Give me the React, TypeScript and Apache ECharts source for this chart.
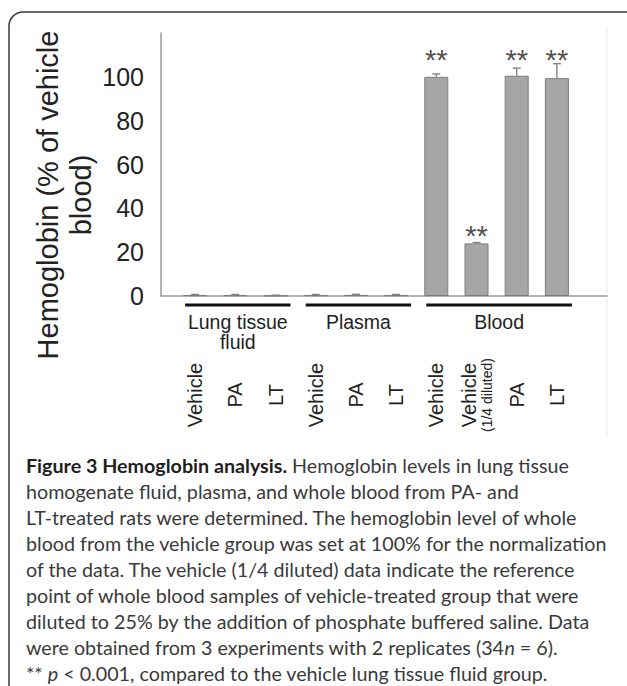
import React, { useEffect, useRef } from 'react';
import * as echarts from 'echarts';

// ---- data ----
const categoryLabels = ['Vehicle', 'PA', 'LT', 'Vehicle', 'PA', 'LT', 'Vehicle', 'Vehicle|(1/4 diluted)', 'PA', 'LT'];
const hemoglobin = [0.4, 0.4, 0.2, 0.4, 0.5, 0.4, 100, 24, 100.5, 99.4];
const errorUp = [0.3, 0.3, 0.2, 0.3, 0.3, 0.3, 1.3, 0.4, 3.5, 6.6];
const sigMarks = ['', '', '', '', '', '', '**', '**', '**', '**'];
const sigY: (number | null)[] = [null, null, null, null, null, null, 111, 30.5, 111, 111];
const groupNames = ['Lung tissue\nfluid', 'Plasma', 'Blood'];
const groupStart = [0, 3, 6];
const groupEnd = [2, 5, 9];
const yMax = 120;
const yStep = 20;
const yLabelMax = 100;
const yAxisTitle = 'Hemoglobin (% of vehicle\nblood)';
const captionLines = [
  '{b|Figure 3 Hemoglobin analysis.}{t| Hemoglobin levels in lung tissue}',
  '{t|homogenate fluid, plasma, and whole blood from PA- and}',
  '{t|LT-treated rats were determined. The hemoglobin level of whole}',
  '{t|blood from the vehicle group was set at 100% for the normalization}',
  '{t|of the data. The vehicle (1/4 diluted) data indicate the reference}',
  '{t|point of whole blood samples of vehicle-treated group that were}',
  '{t|diluted to 25% by the addition of phosphate buffered saline. Data}',
  '{t|were obtained from 3 experiments with 2 replicates (34}{i|n}{t| = 6).}',
  '{t|** }{i|p}{t| < 0.001, compared to the vehicle lung tissue fluid group.}',
];

const catIds = categoryLabels.map((_, i) => 'c' + i);
const FONT = 'Liberation Sans, Arial, sans-serif';
const CAP_FONT = 'Lato, sans-serif';
const CAP_SIZE = 19.7;

export default function App() {
  const ref = useRef<HTMLDivElement>(null);
  useEffect(() => {
    if (!ref.current) return;
    const chart = echarts.init(ref.current, undefined, { renderer: 'svg' });
    const gridTop = 33;
    const gridBottom = 390;
    chart.setOption({
      animation: false,
      backgroundColor: '#ffffff',
      grid: [
        { left: 161, right: 20, top: gridTop, bottom: gridBottom },
        { left: 175, right: 50, top: gridTop, bottom: gridBottom },
      ],
      xAxis: [
        {
          type: 'value', gridIndex: 0, min: 0, max: 1,
          axisLine: { show: true, lineStyle: { color: '#9a9a9a', width: 1.5 } },
          axisTick: { show: false }, axisLabel: { show: false }, splitLine: { show: false },
        },
        {
          type: 'category', gridIndex: 1, data: catIds,
          axisLine: { show: false }, axisTick: { show: false }, splitLine: { show: false },
          axisLabel: {
            interval: 0, rotate: 90, align: 'center', verticalAlign: 'middle', margin: 99,
            fontFamily: FONT, fontSize: 20, color: '#222',
            formatter: (_v: string, i: number) => {
              const parts = categoryLabels[i].split('|');
              return parts.length > 1 ? `{a|${parts[0]}}\n{s|${parts[1]}}` : `{a|${parts[0]}}`;
            },
            rich: {
              a: { fontFamily: FONT, fontSize: 20, color: '#222', lineHeight: 20 },
              s: { fontFamily: FONT, fontSize: 14, color: '#222', lineHeight: 16 },
            },
          },
        },
      ],
      yAxis: [
        {
          type: 'value', gridIndex: 0, min: 0, max: yMax, interval: yStep,
          axisLine: { show: true, lineStyle: { color: '#9a9a9a', width: 1.5 } },
          axisTick: { show: false }, splitLine: { show: false },
          axisLabel: {
            fontFamily: FONT, fontSize: 25, color: '#222', margin: 17,
            formatter: (v: number) => (v > yLabelMax ? '' : String(v)),
          },
        },
        {
          type: 'value', gridIndex: 1, min: 0, max: yMax, interval: yStep, show: false,
        },
      ],
      series: [
        {
          type: 'bar', xAxisIndex: 1, yAxisIndex: 1, barWidth: 24,
          data: hemoglobin,
          itemStyle: { color: '#a6a6a6', borderColor: '#7c7c7c', borderWidth: 1 },
          z: 2,
        },
        {
          type: 'custom', xAxisIndex: 1, yAxisIndex: 1, z: 3,
          data: hemoglobin.map((v, i) => [i, v, errorUp[i]]),
          renderItem: (_p: any, api: any) => {
            const i = api.value(0);
            const v = api.value(1);
            const e = api.value(2);
            const base = api.coord([i, v]);
            const top = api.coord([i, v + e]);
            const st = { stroke: '#7c7c7c', lineWidth: 1.3 };
            return {
              type: 'group',
              children: [
                { type: 'line', shape: { x1: top[0], y1: base[1], x2: top[0], y2: top[1] }, style: st },
                { type: 'line', shape: { x1: top[0] - 4, y1: top[1], x2: top[0] + 4, y2: top[1] }, style: st },
              ],
            };
          },
        },
        {
          type: 'scatter', xAxisIndex: 1, yAxisIndex: 1, symbolSize: 0, z: 4,
          data: sigY.map((v, i) => [i, v == null ? '-' : v]),
          label: {
            show: true, position: 'inside', offset: [0, 7],
            formatter: (p: any) => sigMarks[p.dataIndex],
            fontFamily: FONT, fontSize: 29, color: '#222',
          },
        },
      ],
    });

    const px = (i: number) => chart.convertToPixel({ xAxisIndex: 1 }, catIds[i]) as number;
    const graphics: any[] = [];
    groupNames.forEach((name, g) => {
      const x1 = px(groupStart[g]) - 10;
      const x2 = px(groupEnd[g]) + 15;
      graphics.push({
        type: 'line', shape: { x1, y1: 305, x2, y2: 305 },
        style: { stroke: '#111', lineWidth: 3 },
      });
      graphics.push({
        type: 'text', x: (x1 + x2) / 2, y: 312,
        style: {
          text: name, fontFamily: FONT, fontSize: 19.5, lineHeight: 20,
          fill: '#222', align: 'center', verticalAlign: 'top',
        },
      });
    });
    graphics.push({
      type: 'text', x: 64, y: 195, rotation: Math.PI / 2,
      style: {
        text: yAxisTitle, fontFamily: FONT, fontSize: 29, lineHeight: 33,
        fill: '#222', align: 'center', verticalAlign: 'middle',
      },
    });
    graphics.push({
      type: 'line', shape: { x1: 607, y1: 28, x2: 607, y2: 436 },
      style: { stroke: '#ededed', lineWidth: 1 },
    });
    graphics.push({
      type: 'rect', shape: { x: 9, y: 12, width: 700, height: 760, r: [14, 0, 0, 0] },
      style: { fill: 'none', stroke: '#3a3a3a', lineWidth: 1.5 },
    });
    graphics.push({
      type: 'text', x: 26, y: 452,
      style: {
        text: captionLines.join('\n'), fontFamily: CAP_FONT, fontSize: CAP_SIZE, lineHeight: 26,
        fill: '#3a3a3a', align: 'left', verticalAlign: 'top',
        rich: {
          b: { fontFamily: CAP_FONT, fontSize: CAP_SIZE, fontWeight: 'bold', fill: '#1e1e1e', lineHeight: 26 },
          t: { fontFamily: CAP_FONT, fontSize: CAP_SIZE, fill: '#3a3a3a', lineHeight: 26 },
          i: { fontFamily: CAP_FONT, fontSize: CAP_SIZE, fontStyle: 'italic', fill: '#3a3a3a', lineHeight: 26 },
        },
      },
    });
    chart.setOption({ graphic: graphics });

    return () => chart.dispose();
  }, []);
  return <div ref={ref} style={{ position: 'fixed', left: 0, top: 0, width: 627, height: 686 }} />;
}
